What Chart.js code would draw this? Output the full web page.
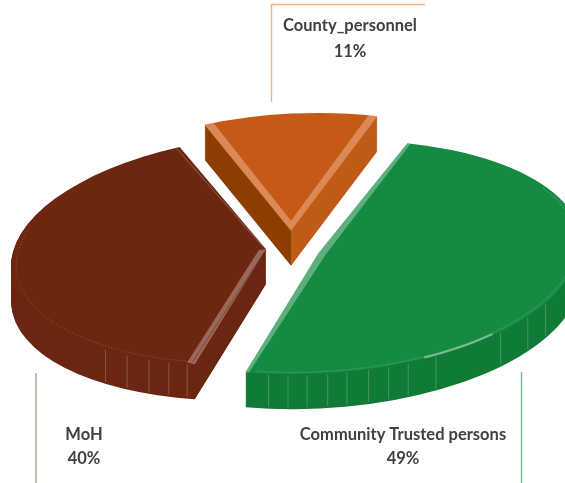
<!doctype html>
<html>

<head>
    <title>Who gives the information</title>
    <script src="https://cdnjs.cloudflare.com/ajax/libs/Chart.js/4.4.1/chart.umd.min.js"></script>
    <style>
    html, body { margin: 0; background: #fff; }
    canvas { display: block; }
    </style>
</head>

<body>
    <canvas id="chart-area" width="565" height="483"></canvas>

    <script>
    var categories = ['County_personnel', 'Community Trusted persons', 'MoH'];
    var shares = [11, 49, 40];

    var topColors = ['#C55A16', '#148A42', '#6D2710'];
    var leftWallColors = ['#8B3E00', '#107A37', '#6A2610'];
    var rightWallColors = ['#C05A17', '#107A37', '#6A2610'];

    // how each slice sits in the flattened 3D view
    // flatten is the front half, flattenBack the far half (it foreshortens more)
    var view = { cx: 291, cy: 249, depth: 35 };
    var sliceView = [
        { shift: 40, radius: 255, flatten: 0.459, flattenBack: 0.459, tilt: -0.05, bevel: 2.1, bevelIn: 0.085, bevelColor: 'rgba(255,225,205,0.36)' },
        { shift: 29, radius: 262, flatten: 0.46, flattenBack: 0.43, tilt: -0.045, bevel: 0.8, bevelIn: 0.03, bevelColor: 'rgba(255,255,255,0.32)' },
        { shift: 25, radius: 255, flatten: 0.45, flattenBack: 0.45, tilt: -0.065, bevel: 0, bevelIn: 0, bevelColor: 'rgba(255,255,255,0.3)' }
    ];
    // seams on the outer wall, degrees clockwise from 12 o'clock
    var seams = [
        [],
        [191, 186.7, 182.5, 178, 173.8, 169, 164.5, 160, 153.4, 136, 127, 120, 109],
        [198, 202.4, 207.3, 213, 219]
    ];

    var labelFont = 'bold 16.5px Lato';
    var labelColor = '#404040';
    var labels = [
        { x: 350, y: 26, pct: 52, i: 0 },
        { x: 403, y: 435, pct: 459, i: 1 },
        { x: 84, y: 435, pct: 459, i: 2 }
    ];
    var leaders = [
        { pts: [[425, 4.5], [271.5, 4.5], [271.5, 102]], color: '#F4B183' },
        { pts: [[521.5, 372], [521.5, 483]], color: '#6FBF8F' },
        { pts: [[36, 373], [36, 483]], color: '#B89A92' }
    ];

    function sliceMatrix(arc, i) {
        var v = sliceView[i];
        var s = v.radius / arc.outerRadius;
        var mid = (arc.startAngle + arc.endAngle) / 2;
        return {
            a: s,
            b: s * v.tilt,
            d: s * v.flatten,
            dBack: s * v.flattenBack,
            e: view.cx + v.shift * Math.cos(mid),
            f: view.cy + v.shift * Math.sin(mid) * v.flatten
        };
    }

    // theta in canvas radians, rf as a fraction of the arc radius, z downwards in px
    function project(arc, m, theta, rf, z) {
        var u = Math.cos(theta) * rf * arc.outerRadius;
        var w = Math.sin(theta) * rf * arc.outerRadius;
        return [m.a * u + m.e, m.b * u + (w < 0 ? m.dBack : m.d) * w + m.f + (z || 0)];
    }

    function fromTop(deg) {
        return (deg - 90) * Math.PI / 180;
    }

    function poly(ctx, pts, color) {
        ctx.beginPath();
        pts.forEach(function(p, n) {
            if (n) ctx.lineTo(p[0], p[1]);
            else ctx.moveTo(p[0], p[1]);
        });
        ctx.closePath();
        ctx.fillStyle = color;
        ctx.fill();
    }

    function line(ctx, a, b, color, width) {
        ctx.beginPath();
        ctx.moveTo(a[0], a[1]);
        ctx.lineTo(b[0], b[1]);
        ctx.strokeStyle = color;
        ctx.lineWidth = width;
        ctx.stroke();
    }

    // draws the library's arc element with another fill, at a given height
    function paintArc(ctx, arc, m, z, color) {
        var saved = arc.options;
        var o = Object.create(saved);
        var R = arc.outerRadius * 2;
        // far half then near half, each with its own foreshortening
        [[m.dBack, -R, R + 1], [m.d, 0, R]].forEach(function(part) {
            ctx.save();
            ctx.transform(m.a, m.b, 0, part[0], m.e, m.f + z);
            ctx.translate(-arc.x, -arc.y);
            ctx.beginPath();
            ctx.rect(arc.x - R, arc.y + part[1], 2 * R, part[2]);
            ctx.clip();
            var fill = color;
            if (typeof color !== 'string') {
                fill = ctx.createLinearGradient(arc.x - 1, 0, arc.x + 1, 0);
                fill.addColorStop(0, color[0]);
                fill.addColorStop(0.5, color[0]);
                fill.addColorStop(0.5, color[1]);
                fill.addColorStop(1, color[1]);
            }
            o.backgroundColor = fill;
            arc.options = o;
            arc.draw(ctx);
            arc.options = saved;
            ctx.restore();
        });
    }

    function rimPath(ctx, arc, m, from, to, rf, color, width, dash) {
        ctx.beginPath();
        for (var d = from; d <= to; d += 1) {
            var p = project(arc, m, fromTop(d), rf, 0);
            if (d === from) ctx.moveTo(p[0], p[1]);
            else ctx.lineTo(p[0], p[1]);
        }
        ctx.setLineDash(dash || []);
        ctx.strokeStyle = color;
        ctx.lineWidth = width;
        ctx.stroke();
        ctx.setLineDash([]);
    }

    function drawBevel(ctx, arc, m, i) {
        var v = sliceView[i];
        var mid = (arc.startAngle + arc.endAngle) / 2;
        var da = v.bevel * Math.PI / 180;
        if (da > 0) {
            var tip = project(arc, m, mid, 0, 0);
            var inner = project(arc, m, mid, v.bevelIn, 0);
            [[arc.startAngle, da], [arc.endAngle, -da]].forEach(function(e) {
                var a = project(arc, m, e[0], 1, 0);
                var b = project(arc, m, e[0] + e[1], 1, 0);
                poly(ctx, [tip, a, b, inner], v.bevelColor);
            });
        }
    }

    var pie3d = {
        id: 'pie3d',
        beforeDatasetsDraw: function(chart) {
            var ctx = chart.ctx;
            var arcs = chart.getDatasetMeta(0).data;

            [0, 2, 1].forEach(function(i) {
                var arc = arcs[i];
                var m = sliceMatrix(arc, i);

                // side walls: stacked copies of the arc, bottom layer first
                for (var z = view.depth; z > 0; z--) {
                    paintArc(ctx, arc, m, z, [leftWallColors[i], rightWallColors[i]]);
                }
                seams[i].forEach(function(deg) {
                    var th = fromTop(deg);
                    line(ctx, project(arc, m, th, 1, 1), project(arc, m, th, 1, view.depth - 2), 'rgba(255,255,255,0.22)', 1);
                });

                paintArc(ctx, arc, m, 0, topColors[i]);
                drawBevel(ctx, arc, m, i);
            });

            // orange slice: thin bright line down the middle of each strip
            var county = arcs[0], cm = sliceMatrix(county, 0);
            [county.startAngle + 0.018, county.endAngle - 0.018].forEach(function(a) {
                line(ctx, project(county, cm, a, 0.96, 0), project(county, cm, a, 0.08, 0), 'rgba(240,125,55,0.7)', 1);
            });

            // maroon slice: strip along the front cut and hairline on the back cut
            var moh = arcs[2], mm = sliceMatrix(moh, 2);
            var front = moh.startAngle;
            var mid = (front + moh.endAngle) / 2;
            poly(ctx, [project(moh, mm, 0, 0, 0), project(moh, mm, front, 1, 0), project(moh, mm, front + 0.035, 0.99, 0), project(moh, mm, mid, 0.028, 0)], 'rgba(255,255,255,0.3)');
            line(ctx, project(moh, mm, front + 0.015, 0.98, 0), project(moh, mm, front + 0.03, 0.03, 0), 'rgba(90,30,10,0.45)', 1);
            line(ctx, project(moh, mm, moh.endAngle - 0.012, 1, 1), project(moh, mm, moh.endAngle - 0.012, 0.04, 1), 'rgba(255,255,255,0.25)', 1);
            rimPath(ctx, moh, mm, 198, 290, 0.98, 'rgba(255,255,255,0.22)', 1, [1, 2]);

            // green slice: soft rim with a bright streak at the front right
            var green = arcs[1], gm = sliceMatrix(green, 1);
            rimPath(ctx, green, gm, 60, 194, 0.985, 'rgba(255,255,255,0.1)', 1.5);
            rimPath(ctx, green, gm, 138, 156, 0.992, 'rgba(255,255,255,0.42)', 2);

            return false;
        },
        afterDraw: function(chart) {
            var ctx = chart.ctx;
            leaders.forEach(function(l) {
                ctx.beginPath();
                l.pts.forEach(function(p, n) {
                    if (n) ctx.lineTo(p[0], p[1]);
                    else ctx.moveTo(p[0], p[1]);
                });
                ctx.strokeStyle = l.color;
                ctx.lineWidth = 1.4;
                ctx.stroke();
            });
            ctx.font = labelFont;
            ctx.fillStyle = labelColor;
            ctx.textAlign = 'center';
            ctx.textBaseline = 'middle';
            labels.forEach(function(l) {
                ctx.fillText(categories[l.i], l.x, l.y);
                ctx.fillText(shares[l.i] + '%', l.x, l.pct);
            });
        }
    };

    window.onload = function() {
        var ctx = document.getElementById('chart-area').getContext('2d');
        window.myPie = new Chart(ctx, {
            type: 'pie',
            data: {
                labels: categories,
                datasets: [{
                    data: shares,
                    backgroundColor: topColors,
                    borderWidth: 0
                }]
            },
            options: {
                responsive: false,
                animation: false,
                rotation: -19.8,
                plugins: {
                    legend: { display: false },
                    tooltip: { enabled: false }
                }
            },
            plugins: [pie3d]
        });
    };
    </script>
</body>

</html>
